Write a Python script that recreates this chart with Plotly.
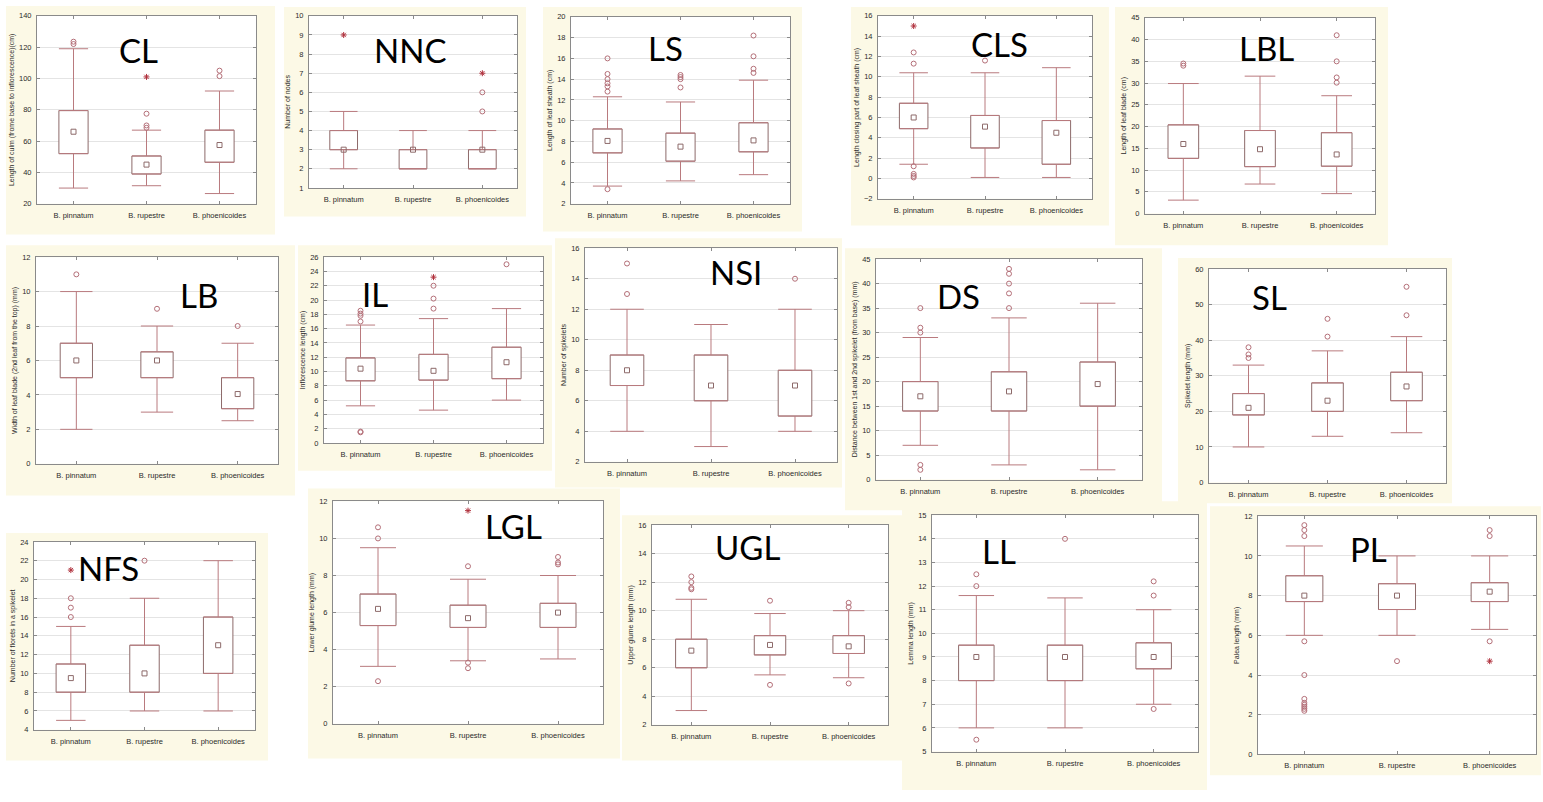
import plotly.graph_objects as go

species = ["B. pinnatum", "B. rupestre", "B. phoenicoides"]

# Box statistics per species: [lower whisker, Q1, median, Q3, upper whisker]
# *_out = outliers (circles), *_ext = extremes (asterisks)
cl_box = [[30, 52, 66, 79.5, 119], [31.5, 39, 45, 50.5, 67], [26.5, 46.5, 57.5, 67, 92]]
cl_out = [[122, 123.5], [68.5, 70, 77.5], [101.5, 105]]
cl_ext = [[], [101], []]

nnc_box = [[2, 3, 3, 4, 5], [2, 2, 3, 3, 4], [2, 2, 3, 3, 4]]
nnc_out = [[], [], [5, 6]]
nnc_ext = [[9], [], [7]]

ls_box = [[3.7, 6.9, 8.05, 9.2, 12.3], [4.2, 6.1, 7.5, 8.8, 11.8], [4.8, 7.0, 8.1, 9.8, 13.9]]
ls_out = [[3.4, 12.8, 13.3, 13.6, 14.0, 14.5, 16.0], [13.2, 14.0, 14.2, 14.4], [14.6, 15.0, 16.2, 18.2]]
ls_ext = [[], [], []]

cls_box = [[1.4, 4.9, 6.0, 7.4, 10.4], [0.1, 3.0, 5.1, 6.2, 10.4], [0.1, 1.4, 4.5, 5.7, 10.9]]
cls_out = [[0.1, 0.25, 0.45, 1.2, 11.3, 12.4], [11.6], []]
cls_ext = [[15.0], [], []]

lbl_box = [[3.1, 12.7, 16.0, 20.4, 29.9], [6.8, 10.8, 14.8, 19.1, 31.6], [4.6, 10.9, 13.6, 18.6, 27.1]]
lbl_out = [[34.0, 34.5], [], [30.1, 31.3, 35.0, 41.0]]
lbl_ext = [[], [], []]

lb_box = [[2, 5, 6, 7, 10], [3, 5, 6, 6.5, 8], [2.5, 3.2, 4.05, 5, 7]]
lb_out = [[11], [9], [8]]
lb_ext = [[], [], []]

il_box = [[5.2, 8.7, 10.4, 11.9, 16.5], [4.6, 8.8, 10.1, 12.4, 17.4], [6.0, 9.0, 11.3, 13.4, 18.8]]
il_out = [[1.5, 1.6, 17.0, 17.8, 18.1, 18.5], [18.8, 20.2, 22.0], [25.0]]
il_ext = [[], [23.2], []]

nsi_box = [[4, 7, 8, 9, 12], [3, 6, 7, 9, 11], [4, 5, 7, 8, 12]]
nsi_out = [[13, 15], [], [14]]
nsi_ext = [[], [], []]

ds_box = [[7, 14, 17, 20, 29], [3, 14, 18, 22, 33], [2, 15, 19.5, 24, 36]]
ds_out = [[2, 3, 30, 31, 35], [35, 38, 40, 42, 43], []]
ds_ext = [[], [], []]

sl_box = [[10, 19, 21, 25, 33], [13, 20, 23, 28, 37], [14, 23, 27, 31, 41]]
sl_out = [[35, 36, 38], [41, 46], [47, 55]]
sl_ext = [[], [], []]

nfs_box = [[5, 8, 9.5, 11, 15], [6, 8, 10, 13, 18], [6, 10, 13, 16, 22]]
nfs_out = [[16, 17, 18], [22], []]
nfs_ext = [[21], [], []]

lgl_box = [[3.1, 5.3, 6.2, 7.0, 9.5], [3.4, 5.2, 5.7, 6.4, 7.8], [3.5, 5.2, 6.0, 6.5, 8.0]]
lgl_out = [[2.3, 10.0, 10.6], [3.0, 3.3, 8.5], [8.6, 8.7, 9.0]]
lgl_ext = [[], [11.5], []]

ugl_box = [[3.0, 6.0, 7.2, 8.0, 10.8], [5.5, 6.9, 7.6, 8.25, 9.8], [5.3, 7.0, 7.5, 8.25, 10.0]]
ugl_out = [[11.5, 11.6, 12.0, 12.4], [4.8, 10.7], [4.9, 10.25, 10.55]]
ugl_ext = [[], [], []]

ll_box = [[6.0, 8.0, 9.0, 9.5, 11.6], [6.0, 8.0, 9.0, 9.5, 11.5], [7.0, 8.5, 9.0, 9.6, 11.0]]
ll_out = [[5.5, 12.0, 12.5], [14.0], [6.8, 11.6, 12.2]]
ll_ext = [[], [], []]

pl_box = [[6.0, 7.7, 8.0, 9.0, 10.5], [6.0, 7.3, 8.0, 8.6, 10.0], [6.3, 7.7, 8.2, 8.65, 10.0]]
pl_out = [[2.2, 2.3, 2.4, 2.5, 2.6, 2.8, 4.0, 5.7, 11.0, 11.3, 11.55], [4.7], [5.7, 11.0, 11.3]]
pl_ext = [[], [], [4.7]]

# (code, y-axis title, box stats, outliers, extremes, (tick min, tick max, step))
panels = [
    ("CL", "Length of culm (frome base to inflorescence)(cm)", cl_box, cl_out, cl_ext, (20, 140, 20)),
    ("NNC", "Number of nodes", nnc_box, nnc_out, nnc_ext, (1, 10, 1)),
    ("LS", "Length of leaf sheath (cm)", ls_box, ls_out, ls_ext, (2, 20, 2)),
    ("CLS", "Length closing part of leaf sheath (cm)", cls_box, cls_out, cls_ext, (-2, 16, 2)),
    ("LBL", "Length of leaf blade (cm)", lbl_box, lbl_out, lbl_ext, (0, 45, 5)),
    ("LB", "Width of leaf blade (2nd leaf from the top) (mm)", lb_box, lb_out, lb_ext, (0, 12, 2)),
    ("IL", "Inflorescence length (cm)", il_box, il_out, il_ext, (0, 26, 2)),
    ("NSI", "Number of spikelets", nsi_box, nsi_out, nsi_ext, (2, 16, 2)),
    ("DS", "Distance between 1st and 2nd spikelet (from base) (mm)", ds_box, ds_out, ds_ext, (0, 45, 5)),
    ("SL", "Spikelet length (mm)", sl_box, sl_out, sl_ext, (0, 60, 10)),
    ("NFS", "Number of florets in a spikelet", nfs_box, nfs_out, nfs_ext, (4, 24, 2)),
    ("LGL", "Lower glume length (mm)", lgl_box, lgl_out, lgl_ext, (0, 12, 2)),
    ("UGL", "Upper glume length (mm)", ugl_box, ugl_out, ugl_ext, (2, 16, 2)),
    ("LL", "Lemma length (mm)", ll_box, ll_out, ll_ext, (5, 15, 1)),
    ("PL", "Palea length (mm)", pl_box, pl_out, pl_ext, (0, 12, 2)),
]

# Panel placement in pixels: cream card (x0, y0, x1, y1), plot area (x0, y0, x1, y1), code label centre
frames = [
    ((6, 2, 275, 233), (37, 12, 256, 202), (138, 47)),
    ((284, 3, 526, 215), (309, 12, 517, 186), (410, 47)),
    ((543, 3, 802, 230), (571, 13, 790, 202), (665, 44)),
    ((851, 3, 1109, 224), (878, 12, 1092, 197), (999, 40)),
    ((1115, 3, 1388, 244), (1145, 14, 1375, 212), (1266, 44)),
    ((6, 244, 295, 497), (36, 256, 278, 465), (199, 294)),
    ((298, 244, 552, 472), (324, 256, 543, 444), (375, 293)),
    ((555, 237, 842, 489), (585, 247, 837, 463), (736, 271)),
    ((845, 247, 1162, 512), (876, 258, 1142, 481), (958, 295)),
    ((1178, 257, 1452, 505), (1209, 268, 1446, 484), (1269, 296)),
    ((6, 535, 268, 765), (34, 544, 255, 734), (108, 570)),
    ((308, 490, 620, 763), (333, 503, 603, 728), (513, 528)),
    ((622, 517, 905, 765), (652, 527, 888, 729), (747, 549)),
    ((902, 503, 1207, 795), (932, 517, 1198, 756), (999, 553)),
    ((1210, 508, 1541, 780), (1258, 518, 1536, 759), (1368, 551)),
]

W, H = 1543, 802
CREAM = "#fcf9e6"
FRAME = "#8a8a8a"
GRID = "#e4e4e4"
BOX = "#8d6a6a"
WHISK = "#b97a7e"
POINT = "#b46f78"
TXT = "#2b2b2b"
TICK_FONT = "Liberation Sans, Arial, sans-serif"


def fx(px):
    return px / W


def fy(py):
    return 1 - py / H


fig = go.Figure()
layout = {}
shapes = []
annotations = []

for i, (code, ytitle, box, out, ext, ticks) in enumerate(panels, start=1):
    cream, area, lab = frames[i - 1]
    sfx = "" if i == 1 else str(i)
    xa, ya = "x" + sfx, "y" + sfx

    lo = [b[0] for b in box]
    q1 = [b[1] for b in box]
    med = [b[2] for b in box]
    q3 = [b[3] for b in box]
    hi = [b[4] for b in box]

    half_box_px = 0.2 * (area[2] - area[0]) / 3

    # box body (Q1..Q3)
    fig.add_trace(go.Bar(
        x=species, y=[b - a for a, b in zip(q1, q3)], base=q1, width=0.4,
        marker=dict(color="white", line=dict(color=BOX, width=1)),
        xaxis=xa, yaxis=ya, hoverinfo="skip", showlegend=False,
    ))
    # upper whiskers
    fig.add_trace(go.Scatter(
        x=species, y=q3, mode="markers", marker=dict(size=1, opacity=0),
        error_y=dict(type="data", symmetric=False,
                     array=[h - q for h, q in zip(hi, q3)], arrayminus=[0, 0, 0],
                     color=WHISK, thickness=1, width=half_box_px),
        xaxis=xa, yaxis=ya, hoverinfo="skip", showlegend=False,
    ))
    # lower whiskers
    fig.add_trace(go.Scatter(
        x=species, y=q1, mode="markers", marker=dict(size=1, opacity=0),
        error_y=dict(type="data", symmetric=False,
                     array=[0, 0, 0], arrayminus=[q - l for q, l in zip(q1, lo)],
                     color=WHISK, thickness=1, width=half_box_px),
        xaxis=xa, yaxis=ya, hoverinfo="skip", showlegend=False,
    ))
    # medians
    fig.add_trace(go.Scatter(
        x=species, y=med, mode="markers",
        marker=dict(symbol="square-open", size=5, color=BOX, line=dict(width=1)),
        xaxis=xa, yaxis=ya, showlegend=False,
    ))
    # outliers
    ox = [s for s, vals in zip(species, out) for _ in vals]
    oy = [v for vals in out for v in vals]
    if oy:
        fig.add_trace(go.Scatter(
            x=ox, y=oy, mode="markers",
            marker=dict(symbol="circle-open", size=5, color=POINT, line=dict(width=1)),
            xaxis=xa, yaxis=ya, showlegend=False,
        ))
    # extremes
    ex = [s for s, vals in zip(species, ext) for _ in vals]
    ey = [v for vals in ext for v in vals]
    if ey:
        fig.add_trace(go.Scatter(
            x=ex, y=ey, mode="markers",
            marker=dict(symbol="asterisk-open", size=5, color="#b0303c", line=dict(width=1)),
            xaxis=xa, yaxis=ya, showlegend=False,
        ))

    tmin, tmax, step = ticks
    layout["xaxis" + sfx] = dict(
        domain=[fx(area[0]), fx(area[2])], anchor=ya,
        type="category", categoryorder="array", categoryarray=species,
        range=[-0.5, 2.5], showline=True, mirror="ticks", linecolor=FRAME, linewidth=1,
        ticks="inside", ticklen=3, tickcolor=FRAME, ticklabelstandoff=4,
        tickfont=dict(size=7.5, family=TICK_FONT, color=TXT),
        showgrid=False, zeroline=False, fixedrange=True,
    )
    layout["yaxis" + sfx] = dict(
        domain=[fy(area[3]), fy(area[1])], anchor=xa,
        range=[tmin, tmax], tickmode="linear", tick0=tmin, dtick=step,
        showline=True, mirror="ticks", linecolor=FRAME, linewidth=1,
        ticks="inside", ticklen=3, tickcolor=FRAME, ticklabelstandoff=3,
        tickfont=dict(size=7.5, family=TICK_FONT, color=TXT),
        showgrid=True, gridcolor=GRID, gridwidth=1, zeroline=False, fixedrange=True,
        title=dict(text=ytitle, font=dict(size=7, family=TICK_FONT, color=TXT), standoff=3),
    )

    # cream card and white plot area
    shapes.append(dict(type="rect", xref="paper", yref="paper",
                       x0=fx(cream[0]), x1=fx(cream[2]), y0=fy(cream[3]), y1=fy(cream[1]),
                       fillcolor=CREAM, line=dict(width=0), layer="below"))
    shapes.append(dict(type="rect", xref=xa + " domain", yref=ya + " domain",
                       x0=0, x1=1, y0=0, y1=1,
                       fillcolor="white", line=dict(width=0), layer="below"))

    annotations.append(dict(text=code, xref="paper", yref="paper",
                            x=fx(lab[0]), y=fy(lab[1]), xanchor="center", yanchor="middle",
                            showarrow=False, font=dict(size=33, family="Lato, sans-serif", color="black")))

fig.update_layout(
    width=W, height=H, margin=dict(l=0, r=0, t=0, b=0),
    paper_bgcolor="white", plot_bgcolor="rgba(0,0,0,0)",
    showlegend=False, shapes=shapes, annotations=annotations,
    **layout,
)

fig.write_html("out.html")
